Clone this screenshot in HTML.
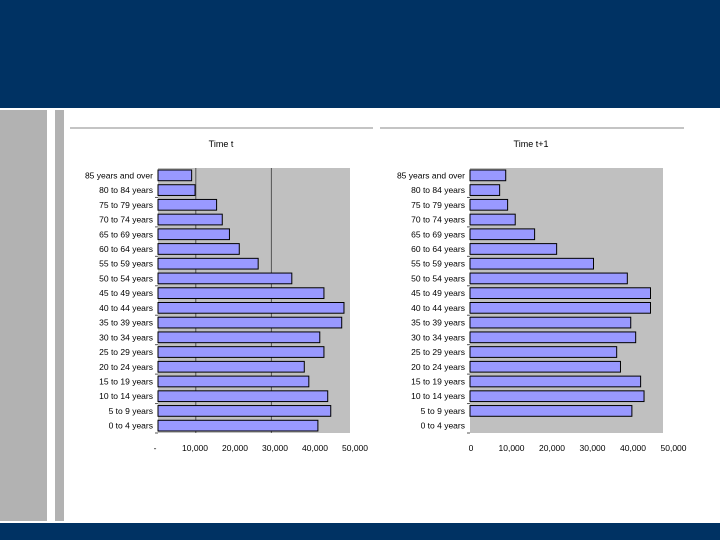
<!DOCTYPE html>
<html><head><meta charset="utf-8"><style>
body{margin:0;width:720px;height:540px;overflow:hidden;background:#fff;font-family:"Liberation Sans",sans-serif}
</style></head><body>
<svg width="720" height="540" xmlns="http://www.w3.org/2000/svg" font-family="Liberation Sans, sans-serif">
<rect x="0" y="0" width="720" height="108" fill="#003263"/>
<rect x="0" y="523" width="720" height="17" fill="#003263"/>
<rect x="0" y="110" width="47" height="411" fill="#b2b2b2"/>
<rect x="55" y="110" width="9" height="411" fill="#b2b2b2"/>
<line x1="70" y1="128" x2="373" y2="128" stroke="#888" stroke-width="1"/>
<line x1="380" y1="128" x2="684" y2="128" stroke="#888" stroke-width="1"/>
<g id="charts"></g>
</svg>
<script>
const categories=["85 years and over","80 to 84 years","75 to 79 years","70 to 74 years","65 to 69 years","60 to 64 years","55 to 59 years","50 to 54 years","45 to 49 years","40 to 44 years","35 to 39 years","30 to 34 years","25 to 29 years","20 to 24 years","15 to 19 years","10 to 14 years","5 to 9 years","0 to 4 years"];
const valuesT=[8900,9800,15500,17000,18900,21500,26500,35400,43900,49200,48600,42800,43900,38700,39900,44900,45700,42300];
const valuesT1=[9400,7800,9900,11900,17000,22800,32500,41400,47500,47500,42300,43600,38600,39600,44900,45800,42600,0];
const tickLabelsT=["-","10,000","20,000","30,000","40,000","50,000"];
const tickLabelsT1=["0","10,000","20,000","30,000","40,000","50,000"];
const gridT=[10000,30000];
const NS="http://www.w3.org/2000/svg";
const g=document.getElementById('charts');
function mk(tag,attrs,parent){const e=document.createElementNS(NS,tag);for(const k in attrs)e.setAttribute(k,attrs[k]);(parent||g).appendChild(e);return e;}
function chart(name,title,titleX,x0,x1,values,ticks,grid,labelX0,labelStep){
  const y0=168,y1=433,max=50000;
  const xs=v=>x0+(x1-x0)*v/max;
  const band=(y1-y0)/categories.length;
  const ys=i=>y0+i*band;
  const grp=mk('g',{});
  
  
  const t=mk('text',{x:titleX,y:147,'font-size':9,'text-anchor':'middle',fill:'#000'},grp);t.textContent=title;
  
  
  const bg=mk('rect',{x:x0,y:y0,width:x1-x0+3,height:y1-y0,fill:'#c0c0c0'},grp);
  
  
  grid.forEach(v=>{const l=mk('line',{x1:xs(v),x2:xs(v),y1:y0,y2:y1,stroke:'#555','stroke-width':1},grp);
    
    });
  categories.forEach((c,i)=>{
    const lb=mk('text',{x:x0-5,y:ys(i)+band/2+3,'font-size':8.5,'text-anchor':'end',fill:'#000'},grp);lb.textContent=c;
    
    
    if(values[i]>0){
      const b=mk('rect',{x:x0,y:ys(i)+2,width:xs(values[i])-x0,height:band-4,fill:'#9999ff',stroke:'#000','stroke-width':1},grp);
      
      
    }
    if(i%2===1){const tk=mk('line',{x1:x0-3,x2:x0,y1:ys(i+1),y2:ys(i+1),stroke:'#555'},grp);
      
      }
  });
  ticks.forEach((s,i)=>{const tx=mk('text',{x:labelX0+i*labelStep,y:451,'font-size':8.5,'text-anchor':'middle',fill:'#000'},grp);tx.textContent=s;
    
    });
}
chart('chart-time-t','Time t',221,158,347,valuesT,tickLabelsT,gridT,155,40);
chart('chart-time-t1','Time t+1',531,470,660,valuesT1,tickLabelsT1,[],471,40.5);
</script>
</body></html>
